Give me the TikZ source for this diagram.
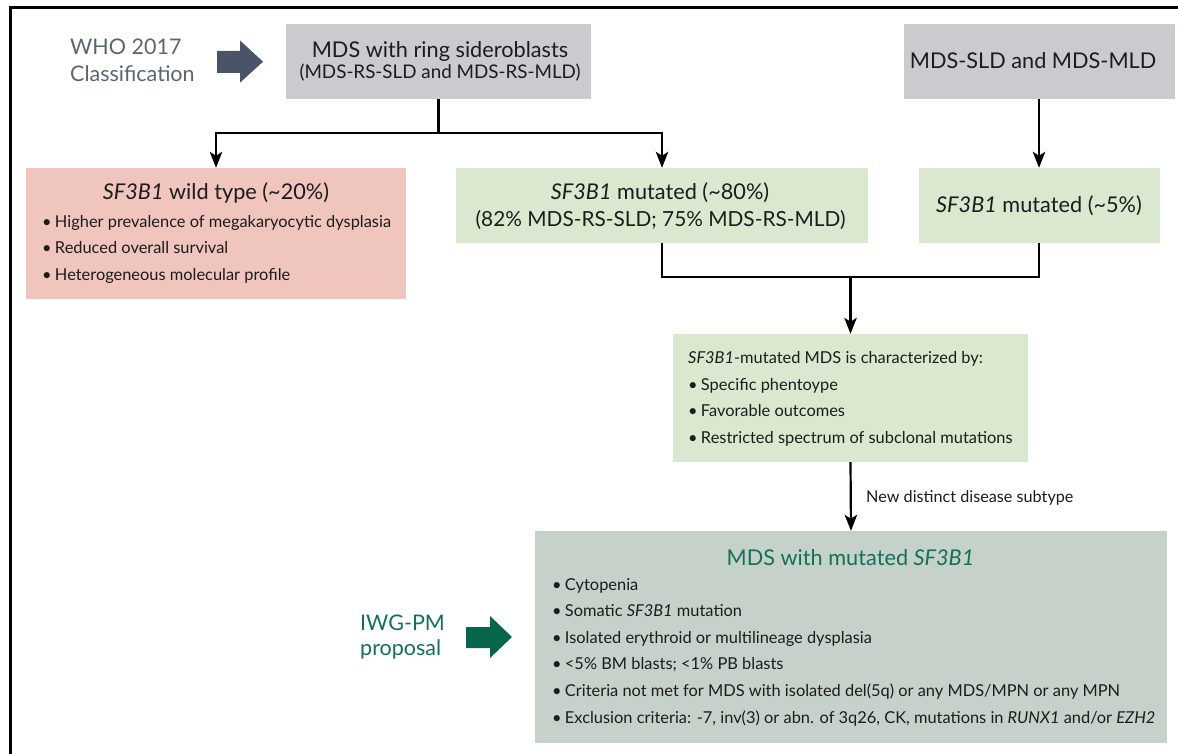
\documentclass[tikz,border=0pt]{standalone}
\usepackage{fontspec}
\setmainfont{Lato}
\usetikzlibrary{arrows.meta}
\definecolor{boxgray}{HTML}{CBCACF}
\definecolor{boxpink}{HTML}{F0C5BD}
\definecolor{boxgreen}{HTML}{DAE8CF}
\definecolor{boxsage}{HTML}{C6D1CA}
\definecolor{whotext}{HTML}{5A6472}
\definecolor{whoarrow}{HTML}{495466}
\definecolor{iwgtext}{HTML}{137059}
\definecolor{iwgarrow}{HTML}{05664B}
\definecolor{ink}{HTML}{1C1C1C}
\newcommand\mybul{\textbullet\hspace{0.2em}}
\begin{document}
\begin{tikzpicture}[x=1pt,y=-1pt,
  box/.style={inner sep=0pt, draw=none},
  conn/.style={line width=2.2pt, draw=black, line join=miter},
  arr/.style={conn, -{Stealth[length=16pt,width=12.5pt,inset=4pt]}},
  t/.style={inner sep=0pt, text=ink},
  bigtxt/.style={t, font=\fontsize{21.5}{25}\selectfont},
  ttl/.style={t, font=\fontsize{21.7}{26}\selectfont, anchor=base},
  subttl/.style={t, font=\fontsize{18.8}{22}\selectfont, anchor=base},
  body/.style={t, font=\fontsize{16.4}{20}\selectfont, anchor=base west},
  lbl/.style={t, font=\fontsize{16.2}{20}\selectfont, anchor=base west}
]
\useasboundingbox (0,0) rectangle (1178,754);
% frame
\draw[line width=3pt] (10,760) -- (10,8) -- (1185,8);

% WHO label and arrow
\node[bigtxt, text=whotext, anchor=base west] (who1) at (70,55) {WHO 2017};
\node[bigtxt, text=whotext, anchor=base west] (who2) at (70,81.7) {Classification};
\fill[whoarrow] (217,51) -- (240,51) -- (240,40.5) -- (263,61.7) -- (240,82.7) -- (240,73) -- (217,73) -- cycle;

% top boxes
\node[box, fill=boxgray, minimum width=305pt, minimum height=75pt] (ring) at (438.5,61.5) {};
\node[ttl] (ringT) at (440,57.3) {MDS with ring sideroblasts};
\node[subttl] (ringS) at (440,78.5) {(MDS-RS-SLD and MDS-RS-MLD)};

\node[box, fill=boxgray, minimum width=271pt, minimum height=75pt] (sld) at (1039,61.5) {};
\node[ttl] (sldT) at (1033,69) {MDS-SLD and MDS-MLD};

% second row
\node[box, fill=boxpink, minimum width=380pt, minimum height=131pt] (wt) at (216,233.5) {};
\node[ttl] (wtT) at (216,200) {\itshape SF3B1\upshape{} wild type (\textasciitilde20\%)};
\node[body] (wt1) at (42,227.3) {\mybul Higher prevalence of megakaryocytic dysplasia};
\node[body] (wt2) at (42,253.7) {\mybul Reduced overall survival};
\node[body] (wt3) at (42,280.5) {\mybul Heterogeneous molecular profile};

\node[box, fill=boxgreen, minimum width=412pt, minimum height=75pt] (mut) at (662,205.5) {};
\node[ttl] (mutT) at (660,200) {\itshape SF3B1\upshape{} mutated (\textasciitilde80\%)};
\node[ttl, font=\fontsize{20.8}{25}\selectfont] (mutS) at (660.5,226) {(82\% MDS-RS-SLD; 75\% MDS-RS-MLD)};

\node[box, fill=boxgreen, minimum width=241pt, minimum height=75pt] (mutf) at (1039,205.5) {};
\node[ttl] (mutfT) at (1039,212.5) {\itshape SF3B1\upshape{} mutated (\textasciitilde5\%)};

% characterization box
\node[box, fill=boxgreen, minimum width=355pt, minimum height=128pt] (chr) at (850.5,398) {};
\node[body] (chr0) at (688,363) {\itshape SF3B1\upshape{}-mutated MDS is characterized by:};
\node[body] (chr1) at (688,390) {\mybul Specific phentoype};
\node[body] (chr2) at (688,416) {\mybul Favorable outcomes};
\node[body] (chr3) at (688,443) {\mybul Restricted spectrum of subclonal mutations};

% final box
\node[box, fill=boxsage, minimum width=632pt, minimum height=212pt] (fin) at (851,637) {};
\node[ttl, text=iwgtext] (finT) at (850.5,565) {MDS with mutated \itshape SF3B1};
\node[body] (fin1) at (552,590) {\mybul Cytopenia};
\node[body] (fin2) at (552,616.6) {\mybul Somatic \itshape SF3B1\upshape{} mutation};
\node[body] (fin3) at (552,643.2) {\mybul Isolated erythroid or multilineage dysplasia};
\node[body] (fin4) at (552,669.8) {\mybul <5\% BM blasts; <1\% PB blasts};
\node[body] (fin5) at (552,696.4) {\mybul Criteria not met for MDS with isolated del(5q) or any MDS/MPN or any MPN};
\node[body] (fin6) at (552,723) {\mybul Exclusion criteria: -7, inv(3) or abn. of 3q26, CK, mutations in \itshape RUNX1\upshape{} and/or \itshape EZH2};

% IWG-PM label and arrow
\node[bigtxt, text=iwgtext, anchor=base west] (iwg1) at (360,630) {IWG-PM};
\node[bigtxt, text=iwgtext, anchor=base west] (iwg2) at (360,655) {proposal};
\fill[iwgarrow] (466,627) -- (490,627) -- (490,616) -- (512,637) -- (490,658) -- (490,648) -- (466,648) -- cycle;

% connectors
\coordinate (j1) at (438.5,133);
\draw[conn] (ring.south) -- (j1);
\draw[arr] (j1) -| (wt.north);
\draw[arr] (j1) -| (mut.north);
\draw[arr] (sld.south) -- (mutf.north);
\coordinate (j2) at (850.5,277);
\draw[conn] (mut.south) |- (j2) -| (mutf.south);
\draw[arr] (j2) -- (chr.north);
\draw[arr] (chr.south) -- (fin.north);
\node[lbl] (newlbl) at (866,502) {New distinct disease subtype};
\end{tikzpicture}
\end{document}
